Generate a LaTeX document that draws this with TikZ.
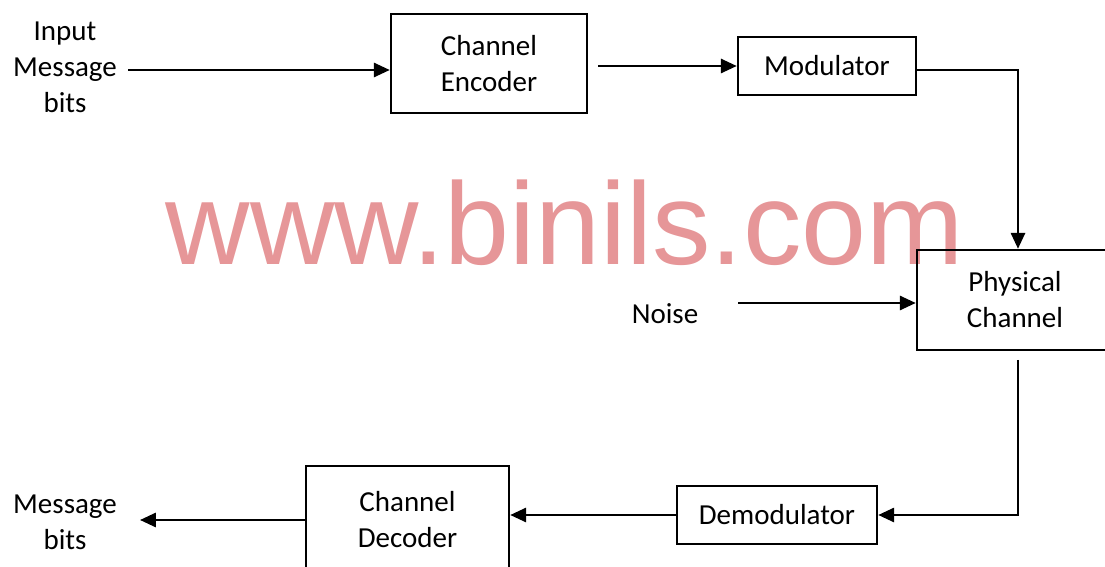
\documentclass[tikz,border=0pt]{standalone}
\usepackage{fontspec}
\setmainfont{Carlito}
\newfontfamily\markfont{Liberation Sans}
\usetikzlibrary{arrows.meta}
\definecolor{markpink}{RGB}{230,150,152}
\tikzset{
    blk/.style={draw, line width=1.4pt, align=center, inner sep=0pt},
    lbl/.style={align=center},
    sig/.style={line width=1.4pt, -{Triangle[length=9pt,width=8pt]}},
    wire/.style={line width=1.4pt}
}
\begin{document}
\begin{tikzpicture}[x=0.02cm, y=-0.02cm, every node/.style={font=\fontsize{16.5}{20.5}\selectfont}]
    \useasboundingbox (0,0) rectangle (1105,567);
    % watermark
    \node[markpink, font=\markfont\fontsize{66.5}{70}\selectfont] (mark) at (565,223) {www.binils.com};
    % blocks
    \node[blk, minimum width=196*0.02cm, minimum height=99*0.02cm] (enc) at (489,63.5) {Channel\\Encoder};
    \node[blk, minimum width=178*0.02cm, minimum height=58*0.02cm] (mod) at (827,66) {Modulator};
    \node[blk, minimum width=196*0.02cm, minimum height=100*0.02cm] (phy) at (1015,300) {Physical\\Channel};
    \node[blk, minimum width=200*0.02cm, minimum height=58*0.02cm] (dem) at (777,515) {Demodulator};
    \node[blk, minimum width=203*0.02cm, minimum height=108*0.02cm] (dec) at (407.5,520) {Channel\\Decoder};
    % texts
    \node[lbl] (inp) at (65,67) {Input\\Message\\bits};
    \node[lbl] (noise) at (665,314) {Noise};
    \node[lbl] (out) at (65,522) {Message\\bits};
    % connectors
    \coordinate (a1) at (128,70);
    \coordinate (a2) at (598,66);
    \coordinate (m1) at (916,70);
    \coordinate (n1) at (738,303);
    \coordinate (p1) at (1018,360);
    \coordinate (o1) at (140,520);
    \draw[sig] (a1) -- (a1 -| enc.west);
    \draw[sig] (a2) -- (a2 -| mod.west);
    \draw[sig] (m1) -| (1018,0 |- phy.north);
    \draw[sig] (n1) -- (n1 -| phy.west);
    \draw[sig] (p1) |- (dem.east);
    \draw[sig] (dem.west) -- (dem.west -| dec.east);
    \draw[sig] (dec.west |- o1) -- (o1);
\end{tikzpicture}
\end{document}
